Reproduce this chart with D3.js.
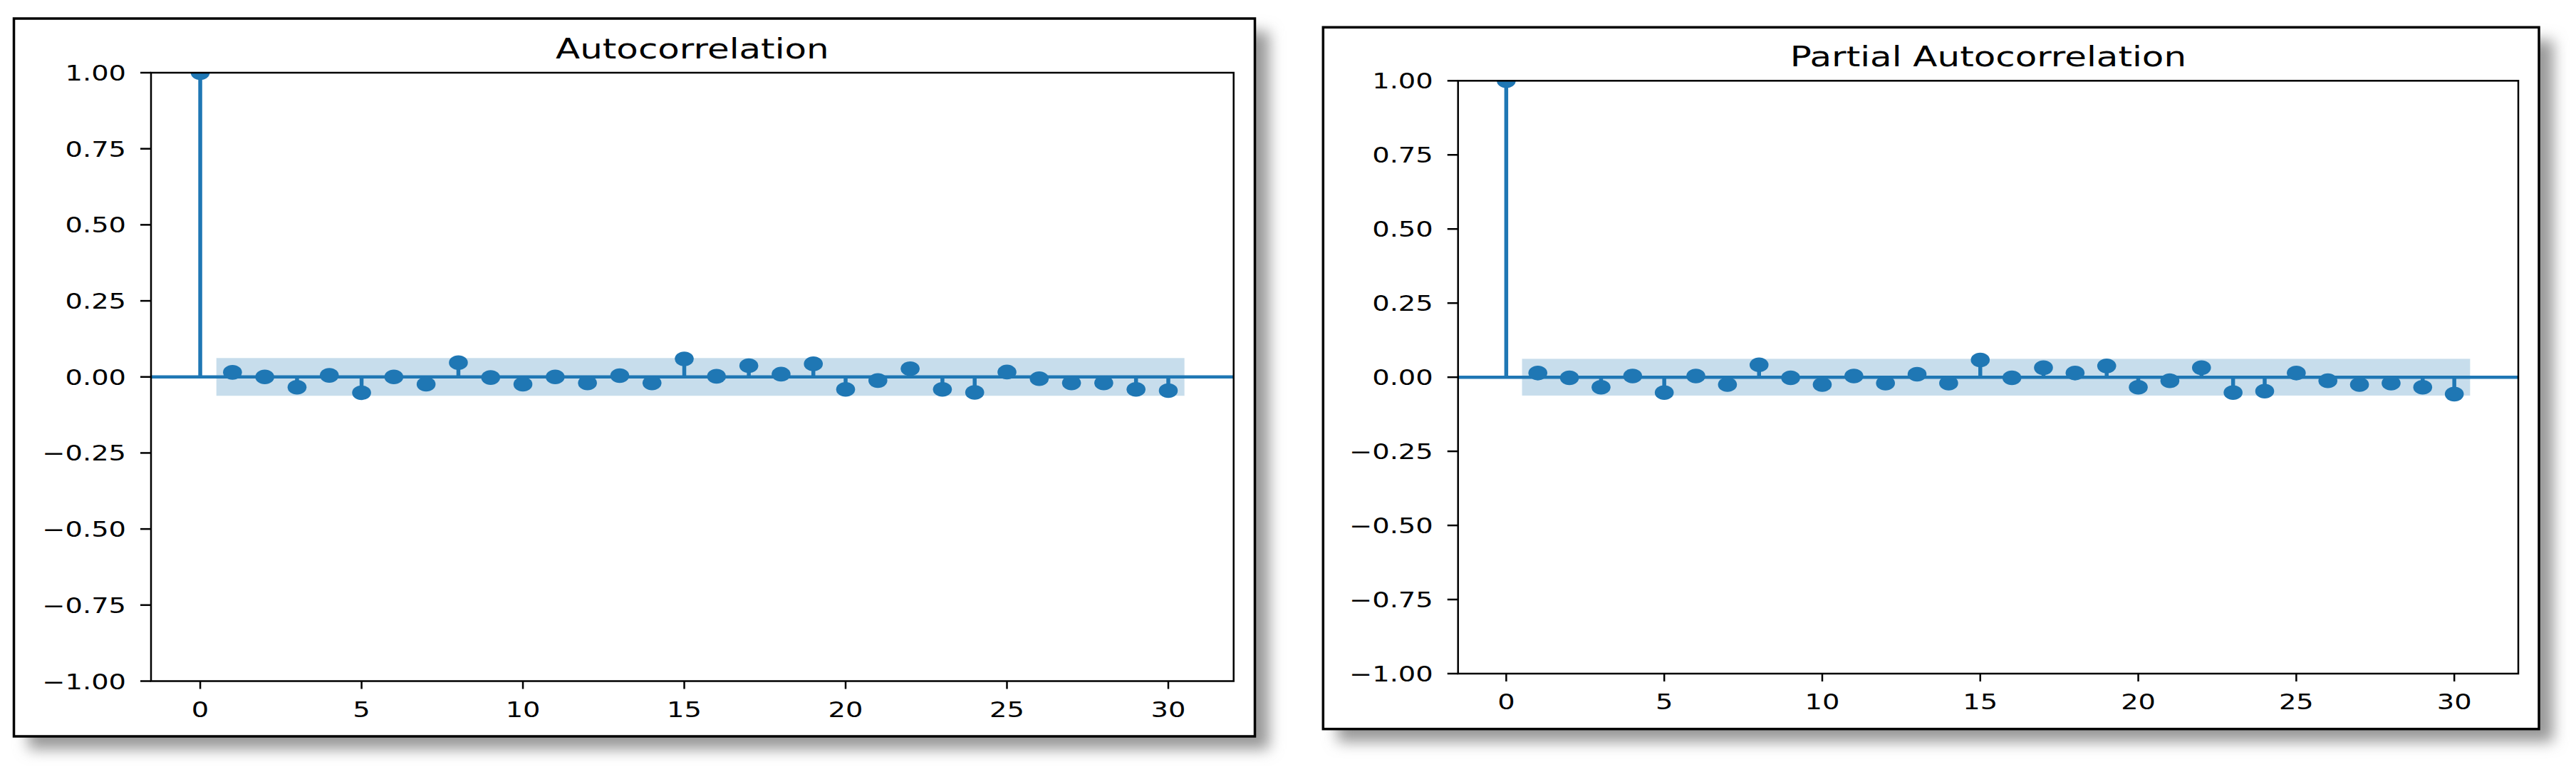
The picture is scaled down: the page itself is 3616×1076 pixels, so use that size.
<!DOCTYPE html>
<html>
<head>
<meta charset="utf-8">
<script src="https://cdn.jsdelivr.net/npm/d3@7"></script>
<style>
  html, body { margin: 0; padding: 0; background: #ffffff; }
  svg { display: block; }
</style>
</head>
<body>
<svg id="chart" width="3616" height="1076"></svg>
<script>
// ---------------- DATA ----------------
const lags = [0,1,2,3,4,5,6,7,8,9,10,11,12,13,14,15,16,17,18,19,20,21,22,23,24,25,26,27,28,29,30];
const acfValues = [1.0, 0.015, 0.0, -0.034, 0.005, -0.052, 0.0, -0.024, 0.047, -0.002, -0.024,
  0.0, -0.020, 0.004, -0.020, 0.059, 0.002, 0.037, 0.009, 0.043, -0.041,
  -0.012, 0.027, -0.041, -0.051, 0.016, -0.006, -0.020, -0.020, -0.041, -0.045];
const pacfValues = [1.0, 0.014, -0.002, -0.034, 0.004, -0.052, 0.004, -0.025, 0.042, -0.002, -0.025,
  0.004, -0.020, 0.010, -0.020, 0.058, -0.002, 0.032, 0.014, 0.038, -0.034,
  -0.012, 0.032, -0.052, -0.047, 0.014, -0.012, -0.025, -0.020, -0.034, -0.057];
const acfConfidence = 0.062;
const pacfConfidence = 0.062;
const titles = ["Autocorrelation", "Partial Autocorrelation"];
const yTickValues = [-1.0, -0.75, -0.5, -0.25, 0.0, 0.25, 0.5, 0.75, 1.0];
const xTickValues = [0, 5, 10, 15, 20, 25, 30];

// ---------------- LAYOUT ----------------
const BLUE = "#1f77b4";
const STRETCH = 1.28;   // horizontal text stretch seen in the reference
const panels = [
  { title: titles[0], values: acfValues, conf: acfConfidence,
    frame: { x0: 19.5, y0: 26, x1: 1761.5, y1: 1033 },
    plot: { x0: 212, y0: 102, x1: 1731.7, y1: 955.5 } },
  { title: titles[1], values: pacfValues, conf: pacfConfidence,
    frame: { x0: 1857.3, y0: 38.3, x1: 3564, y1: 1022.7 },
    plot: { x0: 2046.7, y0: 113.3, x1: 3535, y1: 945 } }
];

const svg = d3.select("#chart");
const defs = svg.append("defs");
const filt = defs.append("filter").attr("id", "shadowBlur")
  .attr("x", "-10%").attr("y", "-10%").attr("width", "120%").attr("height", "120%");
filt.append("feGaussianBlur").attr("stdDeviation", 10);

const fmtY = v => d3.format(".2f")(v).replace("-", "\u2212");

panels.forEach((p, i) => {
  const f = p.frame, a = p.plot;
  // shadow
  svg.append("rect")
    .attr("x", f.x0 + 20).attr("y", f.y0 + 18)
    .attr("width", f.x1 - f.x0).attr("height", f.y1 - f.y0)
    .attr("fill", "#989898").attr("filter", "url(#shadowBlur)");
  // frame
  svg.append("rect")
    .attr("x", f.x0).attr("y", f.y0)
    .attr("width", f.x1 - f.x0).attr("height", f.y1 - f.y0)
    .attr("fill", "#ffffff").attr("stroke", "#000").attr("stroke-width", 3.5);

  const x = d3.scaleLinear().domain([-1.525, 32.025]).range([a.x0, a.x1]);
  const y = d3.scaleLinear().domain([-1, 1]).range([a.y1, a.y0]);

  const clipId = "clip" + i;
  defs.append("clipPath").attr("id", clipId).append("rect")
    .attr("x", a.x0).attr("y", a.y0).attr("width", a.x1 - a.x0).attr("height", a.y1 - a.y0);

  const g = svg.append("g").attr("clip-path", `url(#${clipId})`);

  // confidence band
  g.append("rect")
    .attr("x", x(0.5)).attr("width", x(30.5) - x(0.5))
    .attr("y", y(p.conf)).attr("height", y(-p.conf) - y(p.conf))
    .attr("fill", BLUE).attr("fill-opacity", 0.25);

  // stems
  g.selectAll("line.stem").data(lags).enter().append("line")
    .attr("class", "stem")
    .attr("x1", d => x(d)).attr("x2", d => x(d))
    .attr("y1", y(0)).attr("y2", d => y(p.values[d]))
    .attr("stroke", BLUE).attr("stroke-width", 5.5);

  // zero line
  g.append("line")
    .attr("x1", a.x0).attr("x2", a.x1).attr("y1", y(0)).attr("y2", y(0))
    .attr("stroke", BLUE).attr("stroke-width", 4.5);

  // markers
  g.selectAll("ellipse.mk").data(lags).enter().append("ellipse")
    .attr("class", "mk")
    .attr("cx", d => x(d)).attr("cy", d => y(p.values[d]))
    .attr("rx", 13.3).attr("ry", 10.3)
    .attr("fill", BLUE);

  // spines
  svg.append("rect")
    .attr("x", a.x0).attr("y", a.y0).attr("width", a.x1 - a.x0).attr("height", a.y1 - a.y0)
    .attr("fill", "none").attr("stroke", "#000").attr("stroke-width", 2.5);

  // y ticks
  const yt = svg.append("g");
  yt.selectAll("line").data(yTickValues).enter().append("line")
    .attr("x1", a.x0 - 15).attr("x2", a.x0)
    .attr("y1", d => y(d)).attr("y2", d => y(d))
    .attr("stroke", "#000").attr("stroke-width", 2.5);
  yt.selectAll("text").data(yTickValues).enter().append("text")
    .attr("transform", d => `translate(${a.x0 - 35},${y(d) + 11}) scale(${STRETCH},1)`)
    .attr("text-anchor", "end")
    .attr("font-family", "DejaVu Sans")
    .attr("font-size", 30)
    .attr("fill", "#000")
    .text(d => fmtY(d));

  // x ticks
  const xt = svg.append("g");
  xt.selectAll("line").data(xTickValues).enter().append("line")
    .attr("x1", d => x(d)).attr("x2", d => x(d))
    .attr("y1", a.y1).attr("y2", a.y1 + 11)
    .attr("stroke", "#000").attr("stroke-width", 2.5);
  xt.selectAll("text").data(xTickValues).enter().append("text")
    .attr("transform", d => `translate(${x(d)},${a.y1 + 50}) scale(${STRETCH},1)`)
    .attr("text-anchor", "middle")
    .attr("font-family", "DejaVu Sans")
    .attr("font-size", 30)
    .attr("fill", "#000")
    .text(d => String(d));

  // title
  svg.append("text")
    .attr("transform", `translate(${(a.x0 + a.x1) / 2},${a.y0 - 20}) scale(${STRETCH},1)`)
    .attr("text-anchor", "middle")
    .attr("font-family", "DejaVu Sans")
    .attr("font-size", 39)
    .attr("fill", "#000")
    .text(p.title);
});
</script>
</body>
</html>
